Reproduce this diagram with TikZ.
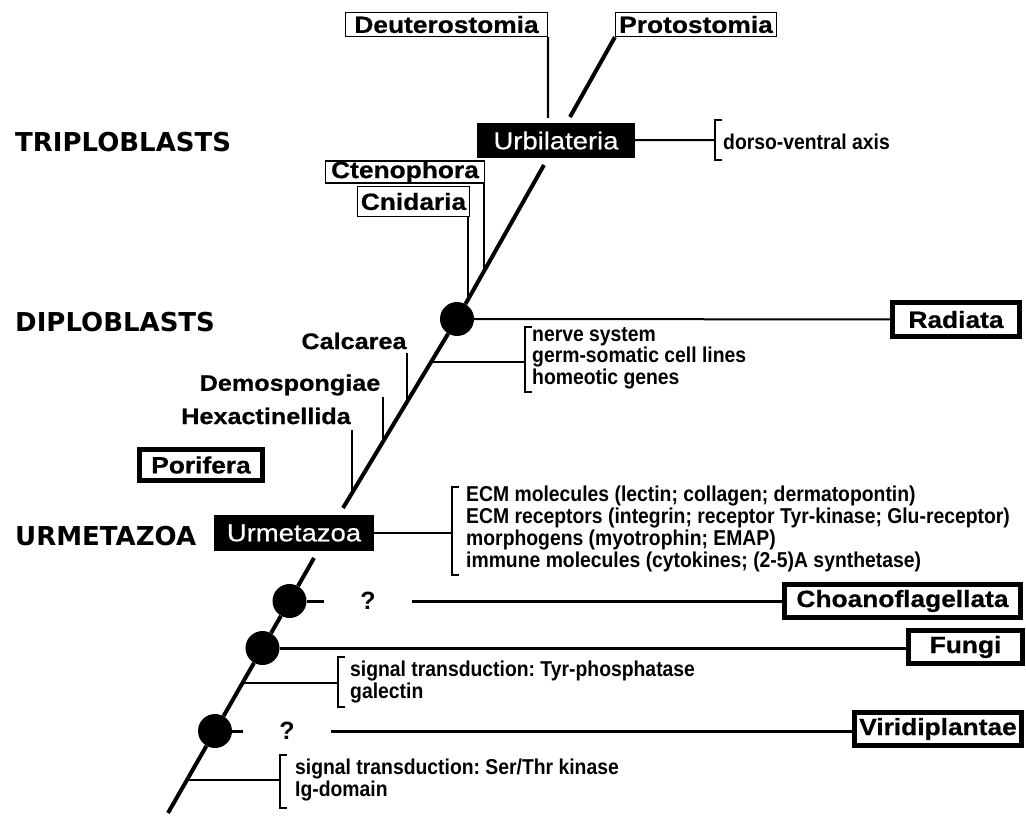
\documentclass[tikz,border=0pt]{standalone}
\usepackage{fontspec}
\setmainfont{Liberation Sans}
\newfontfamily\taxonfont{Liberation Sans}[FakeStretch=1.12, FakeBold=0.6]
\newfontfamily\notefont{Liberation Sans}[FakeStretch=0.9]
\newfontfamily\levelfont{DejaVu Sans}
\usetikzlibrary{positioning}
\frenchspacing

\begin{document}
\begin{tikzpicture}[x=1pt, y=-1pt,
    taxon/.style={draw, line width=1.2pt, inner sep=0pt,
                  font=\taxonfont\bfseries\fontsize{23.5}{23.5}\selectfont},
    clade/.style={draw, line width=5pt, inner sep=0pt,
                  font=\taxonfont\bfseries\fontsize{23.5}{23.5}\selectfont},
    anc/.style={fill=black, text=white, inner sep=0pt,
                font=\taxonfont\fontsize{24.5}{24.5}\selectfont},
    sponge/.style={inner sep=0pt, font=\taxonfont\bfseries\fontsize{22.5}{22.5}\selectfont},
    level/.style={anchor=west, inner sep=0pt, font=\levelfont\bfseries\fontsize{26}{26}\selectfont},
    knot/.style={circle, fill=black, minimum size=34pt, inner sep=0pt},
    note/.style={anchor=west, align=left, inner sep=0pt,
                 font=\notefont\bfseries\fontsize{21.5}{21.5}\selectfont},
    query/.style={inner xsep=36pt, inner ysep=0pt, font=\bfseries\fontsize{25}{25}\selectfont},
    trunk/.style={line width=4pt},
    twig/.style={line width=2.2pt},
    link/.style={line width=2pt},
    lead/.style={line width=3pt},
    brk/.style={line width=2.5pt}
]
\useasboundingbox (0,0) rectangle (1026,816);

% grades
\node[level] (tri) at (15,142) {TRIPLOBLASTS};
\node[level] (dip) at (15,322) {DIPLOBLASTS};
\node[level] (urm) at (15,536) {URMETAZOA};

% trunk points
\coordinate (root) at (168,813);
\coordinate (tA) at (314,558);
\coordinate (tB) at (343,508);
\coordinate (tC) at (544,165);
\coordinate (tD) at (570,117);

% branch points
\node[knot] (c3) at (215,731) {};
\node[knot] (c2) at (262.5,648) {};
\node[knot] (c1) at (289.5,601) {};
\node[knot] (rad) at (457,319) {};

% taxa
\node[taxon, minimum width=202pt, minimum height=24pt] (deut) at (446.5,24.5) {Deuterostomia};
\node[taxon, minimum width=161pt, minimum height=24pt] (prot) at (696,24.5) {Protostomia};
\node[taxon, minimum width=159pt, minimum height=22pt] (cte) at (405,172) {Ctenophora};
\node[taxon, minimum width=112pt, minimum height=30pt] (cnid) at (413.5,201.5) {Cnidaria};
\node[anc, minimum width=158pt, minimum height=35pt] (urbi) at (556,140.5) {Urbilateria};
\node[anc, minimum width=160pt, minimum height=36pt] (urme) at (294,533) {Urmetazoa};

\node[clade, minimum width=127pt, minimum height=34pt] (radiata) at (956,319.5) {Radiata};
\node[clade, minimum width=123pt, minimum height=31pt] (porifera) at (201,465) {Porifera};
\node[clade, minimum width=236pt, minimum height=33pt] (choano) at (902.5,601) {Choanoflagellata};
\node[clade, minimum width=114pt, minimum height=33pt] (fungi) at (965.5,647) {Fungi};
\node[clade, minimum width=167pt, minimum height=33pt] (viridi) at (938,729) {Viridiplantae};

\node[sponge] (cal) at (354,341) {Calcarea};
\node[sponge] (dem) at (290,385) {Demospongiae};
\node[sponge] (hex) at (266,416) {Hexactinellida};

% characters
\node[note] (dv) at (723,142) {dorso-ventral axis};
\node[note] (ner) at (532,358) {nerve system\\germ-somatic cell lines\\homeotic genes};
\node[note, font=\notefont\bfseries\fontsize{21.5}{22}\selectfont] (ecm) at (466,529)
    {ECM molecules (lectin; collagen; dermatopontin)\\
     ECM receptors (integrin; receptor Tyr-kinase; Glu-receptor)\\
     morphogens (myotrophin; EMAP)\\
     immune molecules (cytokines; (2-5)A synthetase)};
\node[note, font=\notefont\bfseries\fontsize{21.5}{20}\selectfont] (tyr) at (350,682)
    {signal transduction: Tyr-phosphatase\\galectin};
\node[note, font=\notefont\bfseries\fontsize{21.5}{20}\selectfont] (ser) at (295,780)
    {signal transduction: Ser/Thr kinase\\Ig-domain};

\node[query] (q1) at (368,601) {?};
\node[query] (q2) at (287,731) {?};

% trunk
\draw[trunk] (root) -- (c3) -- (c2) -- (c1) -- (tA);
\draw[trunk] (tB) -- (rad) -- (tC);
\draw[trunk] (tD) -- (prot.south west);

% top
\coordinate (deutEnd) at (548,118);
\draw[twig] (deut.south east) -- (deutEnd);
\coordinate (jCni) at (468,299.5);
\coordinate (jCte) at (484,271);
\draw[twig] (jCni) -- (jCni |- cnid.south);
\draw[twig] (jCte) -- (jCte |- cte.south);

% sponges
\coordinate (jHex) at (352,493);
\coordinate (jDem) at (383,441.7);
\coordinate (jCal) at (407,402);
\coordinate (hexTop) at (352,430);
\coordinate (demTop) at (383,397);
\coordinate (calTop) at (407,353);
\draw[twig] (jHex) -- (hexTop);
\draw[twig] (jDem) -- (demTop);
\draw[twig] (jCal) -- (calTop);

% brackets
\coordinate (bDV) at (715,140);
\draw[link] (urbi) -- (bDV);
\draw[brk] (bDV) ++(7,-20) -- ++(-7,0) -- ++(0,40) -- ++(7,0);

\draw[link] (rad) -- (radiata);
\coordinate (jNer) at (431,362);
\coordinate (bNer) at (525,362);
\draw[link] (jNer) -- (bNer);
\draw[brk] (bNer) ++(7,-35) -- ++(-7,0) -- ++(0,65) -- ++(7,0);

\coordinate (bECM) at (452,533);
\draw[link] (urme) -- (bECM);
\draw[brk] (bECM) ++(7,-46) -- ++(-7,0) -- ++(0,88) -- ++(7,0);

\draw[lead] (c1) -- (q1);
\draw[lead] (q1) -- (q1 -| choano.west);
\draw[lead] (c2) -- (c2 -| fungi.west);
\coordinate (jTyr) at (242.6,683);
\coordinate (bTyr) at (338,683);
\draw[link] (jTyr) -- (bTyr);
\draw[brk] (bTyr) ++(7,-26) -- ++(-7,0) -- ++(0,50) -- ++(7,0);

\draw[lead] (c3) -- (q2);
\draw[lead] (q2) -- (q2 -| viridi.west);
\coordinate (jSer) at (187,780);
\coordinate (bSer) at (280,780);
\draw[link] (jSer) -- (bSer);
\draw[brk] (bSer) ++(7,-25) -- ++(-7,0) -- ++(0,53) -- ++(7,0);
\end{tikzpicture}
\end{document}
